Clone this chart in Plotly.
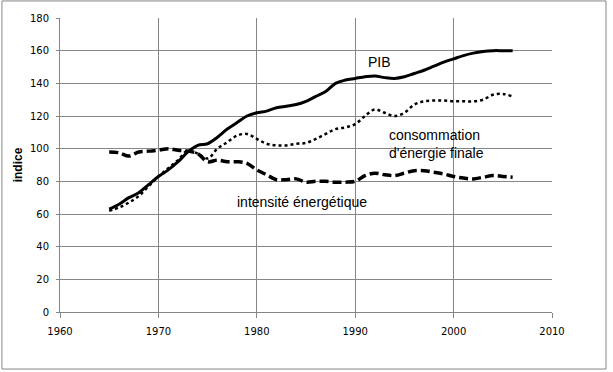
import plotly.graph_objects as go

years = list(range(1965, 2007))

pib = [63, 66, 70, 73, 78, 83, 87, 92, 98, 102, 103, 107, 112, 116, 120, 122, 123, 125, 126, 127,
       129, 132, 135, 140, 142, 143, 144, 144.5, 143.5, 143, 144, 146, 148, 150.5, 153, 155, 157,
       158.5, 159.5, 160, 160, 160]

conso = [62, 64, 67, 71, 77, 83, 88, 93, 99, 97, 94, 100, 104, 108, 109, 106, 103, 102, 102, 103,
         103.5, 106, 109, 112, 113, 115, 120, 124, 122, 120, 122, 127, 129, 129.5, 129.5, 129, 129,
         129, 130, 133, 133.5, 132]

intens = [98, 97.5, 95.5, 98, 98.5, 99, 100, 99, 98.5, 97, 92, 93, 92, 92, 91, 87, 84, 81, 81,
          81.5, 79.5, 80, 80, 79.5, 79.5, 80, 83.5, 85, 84, 83.5, 85, 86.5, 86.5, 85.5, 84.5, 83,
          82, 81.5, 82.5, 83.5, 83, 82.5]

x_ticks = [1960, 1970, 1980, 1990, 2000, 2010]
y_ticks = [0, 20, 40, 60, 80, 100, 120, 140, 160, 180]

fig = go.Figure()
fig.add_trace(go.Scatter(x=years, y=intens, mode="lines", line=dict(color="black", width=3.5, dash="9px,4px", shape="spline"), hoverinfo="skip"))
fig.add_trace(go.Scatter(x=years, y=conso, mode="lines", line=dict(color="black", width=2.5, dash="dot", shape="spline"), hoverinfo="skip"))
fig.add_trace(go.Scatter(x=years, y=pib, mode="lines", line=dict(color="black", width=3, shape="spline"), hoverinfo="skip"))

grid = "#868686"
ann_font = dict(family="Liberation Sans", size=14, color="black")
fig.update_layout(
    width=613, height=372,
    margin=dict(l=60, r=61, t=18, b=60),
    paper_bgcolor="white", plot_bgcolor="white",
    showlegend=False,
    font=dict(family="DejaVu Sans", size=10, color="black"),
    xaxis=dict(range=[1960, 2010], tickvals=x_ticks, showgrid=True, gridcolor=grid, gridwidth=1,
               showline=True, linecolor=grid, linewidth=1, ticks="outside", ticklen=5, tickcolor=grid,
               zeroline=False, tickfont=dict(family="DejaVu Sans", size=10), ticklabelstandoff=5),
    yaxis=dict(range=[0, 180], tickvals=y_ticks, showgrid=True, gridcolor=grid, gridwidth=1,
               showline=True, linecolor=grid, linewidth=1, ticks="outside", ticklen=3, tickcolor=grid,
               zeroline=False, tickfont=dict(family="DejaVu Sans", size=10), ticklabelstandoff=5,
               title=dict(text="<b>indice</b>", font=dict(family="Liberation Sans", size=12), standoff=4)),
    shapes=[dict(type="rect", xref="paper", yref="paper", x0=-0.118, x1=1.1098, y0=-0.194, y1=1.058,
                 line=dict(color=grid, width=1))],
    annotations=[
        dict(x=1992.5, y=153, xref="x", yref="y", text="PIB", showarrow=False, font=ann_font),
        dict(x=1993.2, y=103, xref="x", yref="y", text="consommation<br>d'énergie finale", showarrow=False,
             xanchor="left", align="left", font=ann_font),
        dict(x=1977.8, y=67.5, xref="x", yref="y", text="intensité énergétique", showarrow=False,
             xanchor="left", font=ann_font),
    ],
)

fig.write_html("out.html", config={"displayModeBar": False},
               post_script="document.body.style.margin='0';document.body.style.overflow='hidden';")
